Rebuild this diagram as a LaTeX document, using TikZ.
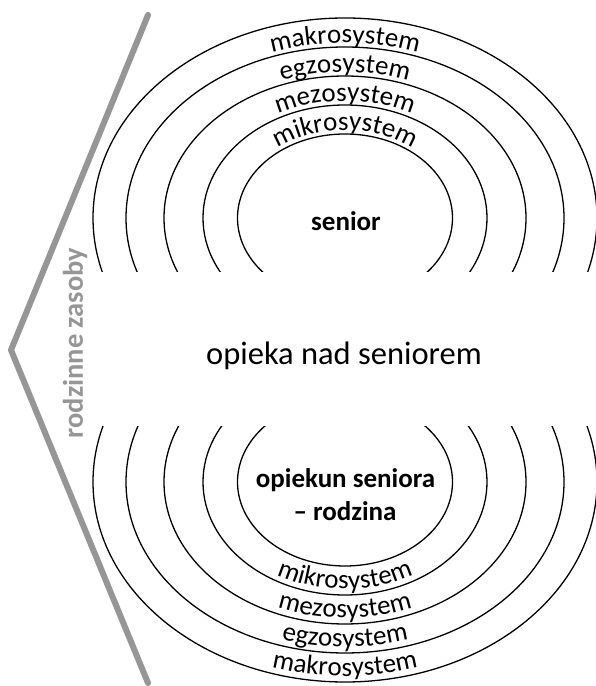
\documentclass[tikz,border=0pt]{standalone}
\usepackage{fontspec}
\setmainfont{Carlito}
\usetikzlibrary{decorations.text}

\newcommand\ringfont{\fontsize{27}{32}\selectfont}

% label set along the upper half of an ellipse round (uc)
\newcommand\toplabel[3]{%
  \path[decorate,decoration={text along path,text align=center,text={|\ringfont|#3}}]
    ([xshift=-#1pt]uc) arc[start angle=180,end angle=0,x radius=#1pt,y radius=#2pt];}
% label set along the lower half of an ellipse round (lc)
\newcommand\bottomlabel[3]{%
  \path[decorate,decoration={text along path,text align=center,text={|\ringfont|#3}}]
    ([xshift=-#1pt]lc) arc[start angle=180,end angle=360,x radius=#1pt,y radius=#2pt];}

\definecolor{chevgray}{RGB}{150,150,150}

\begin{document}
\begin{tikzpicture}[x=1pt,y=1pt,
  ring/.style={draw=black,line width=1.3pt},
  chev/.style={draw=chevgray,line width=6pt,line cap=round,line join=round},
  core/.style={font=\fontsize{27}{33}\selectfont\bfseries,align=center},
  middle/.style={font=\fontsize{32.5}{38}\selectfont},
  side/.style={font=\fontsize{28.5}{33}\selectfont\bfseries,text=chevgray,rotate=90}]

\useasboundingbox (0,0) rectangle (596,686);

\coordinate (uc) at (345,468);
\coordinate (lc) at (345,204);

% upper group of rings
\begin{scope}
  \clip (0,414) rectangle (600,700);
  \foreach \rx/\ry in {252/200,219/171,181/142,142/113,107.5/84}
    \draw[ring] (uc) ellipse[x radius=\rx pt,y radius=\ry pt];
\end{scope}

% lower group of rings
\begin{scope}
  \clip (0,-10) rectangle (600,259);
  \foreach \rx/\ry in {252/200,219/171,181/142,142/113,107.5/84}
    \draw[ring] (lc) ellipse[x radius=\rx pt,y radius=\ry pt];
\end{scope}

% system names on the upper rings
\toplabel{223}{175}{makrosystem}
\toplabel{185}{146}{egzosystem}
\toplabel{146}{117}{mezosystem}
\toplabel{111.5}{88}{mikrosystem}

% system names on the lower rings
\bottomlabel{137}{107}{mikrosystem}
\bottomlabel{176}{136}{mezosystem}
\bottomlabel{214}{165}{egzosystem}
\bottomlabel{247}{194}{makrosystem}

% texts
\node[core,anchor=base] (senior) at (346,455) {senior};
\node[middle,anchor=base] (opieka) at (344,321.5) {opieka nad seniorem};
\node[core,anchor=base] (opiekun) at (345.5,198) {opiekun seniora};
\node[core,anchor=base] (rodzina) at (345,165) {– rodzina};

% family resources chevron
\draw[chev] (148,671) -- (11,336) -- (148,3);
\node[side] (zasoby) at (75,343) {rodzinne zasoby};

\end{tikzpicture}
\end{document}
